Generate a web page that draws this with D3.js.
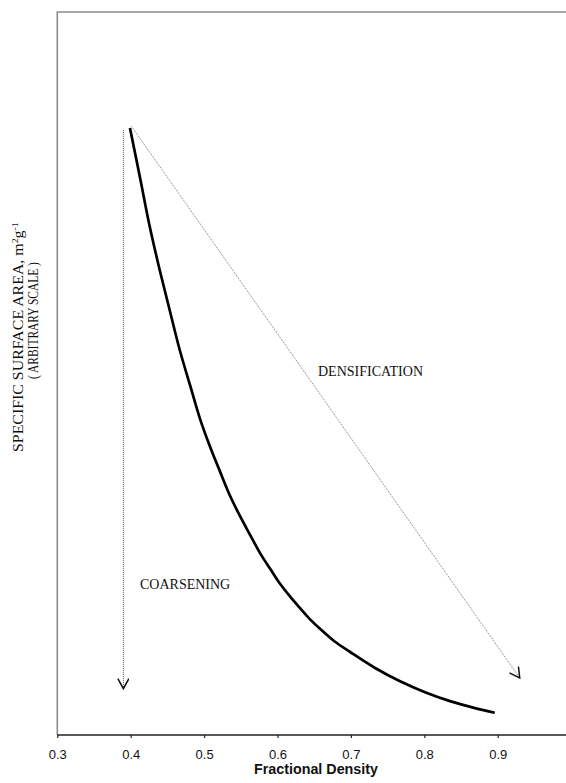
<!DOCTYPE html>
<html>
<head>
<meta charset="utf-8">
<script src="https://cdnjs.cloudflare.com/ajax/libs/d3/7.8.5/d3.min.js"></script>
<style>
  html, body { margin: 0; padding: 0; background: #fff; }
  svg { display: block; }
</style>
</head>
<body>
<svg id="chart" width="566" height="783"></svg>
<script>
// Fractional density (x) against specific surface area (arbitrary units, y)
const densityValues = [0.399, 0.413, 0.426, 0.440, 0.454, 0.467, 0.481, 0.494, 0.508, 0.522,
                       0.535, 0.549, 0.563, 0.576, 0.590, 0.603, 0.617, 0.631, 0.644, 0.658,
                       0.678, 0.699, 0.733, 0.767, 0.801, 0.835, 0.869, 0.896];
const surfaceValues = [83.96, 76.93, 70.29, 64.11, 58.40, 53.18, 48.34, 43.87, 39.90, 36.36,
                       33.17, 30.26, 27.61, 25.19, 22.99, 20.98, 19.16, 17.51, 16.03, 14.69,
                       12.93, 11.48, 9.27, 7.43, 5.92, 4.69, 3.72, 3.08];

// Pathways: coarsening (surface area drops at constant density), densification (both change)
const coarseningPath = [[0.390, 83.7], [0.390, 6.4]];
const densificationPath = [[0.401, 84.2], [0.930, 7.9]];

const xTickValues = [0.3, 0.4, 0.5, 0.6, 0.7, 0.8, 0.9];
const xTitle = "Fractional Density";
const yTitleLine1 = "SPECIFIC SURFACE AREA,  m";
const yTitleLine2 = "( ARBITRARY SCALE )";

const svg = d3.select("#chart");
const W = 566, H = 783;
const plot = { left: 57.3, top: 12, bottom: 735 };

const x = d3.scaleLinear().domain([0.3, 1.0]).range([plot.left, plot.left + 734 * 0.7]);
const y = d3.scaleLinear().domain([0, 100]).range([plot.bottom, plot.top]);

const serif = "Liberation Serif, Times New Roman, serif";
const sans = "Liberation Sans, Arial, sans-serif";

// Plot frame (top and left), extending off the right edge
svg.append("path")
  .attr("d", `M${W + 5},${plot.top}H${plot.left}V${plot.bottom}`)
  .attr("fill", "none")
  .attr("stroke", "#8c8c8c")
  .attr("stroke-width", 1.6);

// X axis
const xAxis = d3.axisBottom(x)
  .tickValues(xTickValues)
  .tickSize(3)
  .tickSizeOuter(0)
  .tickFormat(d3.format(".1f"));
const gx = svg.append("g")
  .attr("transform", `translate(0,${plot.bottom})`)
  .call(xAxis);
gx.select(".domain").attr("stroke", "#222").attr("stroke-width", 1.6)
  .attr("d", `M${plot.left},0H${W + 5}`);
gx.selectAll(".tick line").attr("stroke", "#222").attr("stroke-width", 1.2);
gx.selectAll(".tick text")
  .attr("font-family", sans)
  .attr("font-size", 13)
  .attr("fill", "#111")
  .attr("dy", "0")
  .attr("y", 24);

svg.append("text")
  .attr("x", 316).attr("y", 774)
  .attr("text-anchor", "middle")
  .attr("font-family", sans)
  .attr("font-weight", "bold")
  .attr("font-size", 14.3)
  .attr("fill", "#111")
  .text(xTitle);

// Y axis title (two rotated lines), each fitted to its span along the axis
function fitRotated(textSel, baselineX, yBottom, yTop) {
  const len = textSel.node().getComputedTextLength();
  const s = (yBottom - yTop) / len;
  textSel.attr("transform", `translate(${baselineX},${yBottom}) rotate(-90) scale(${s},1)`);
}

const yt1 = svg.append("text")
  .attr("font-family", serif)
  .attr("font-size", 14.5)
  .attr("fill", "#111");
yt1.append("tspan").text(yTitleLine1);
yt1.append("tspan").attr("dy", -5).attr("font-size", 9).text("2");
yt1.append("tspan").attr("dy", 5).text("g");
yt1.append("tspan").attr("dy", -5).attr("font-size", 9).text("-1");
fitRotated(yt1, 23, 452, 222);

const yt2 = svg.append("text")
  .attr("font-family", serif)
  .attr("font-size", 14)
  .attr("fill", "#111")
  .text(yTitleLine2);
fitRotated(yt2, 38, 379, 262);

// Arrowhead marker (open V)
svg.append("defs").append("marker")
  .attr("id", "openArrow")
  .attr("viewBox", "0 0 12 12")
  .attr("refX", 11).attr("refY", 6)
  .attr("markerWidth", 12).attr("markerHeight", 12)
  .attr("markerUnits", "userSpaceOnUse")
  .attr("orient", "auto")
  .append("path")
  .attr("d", "M1,0.5L11,6L1,11.5")
  .attr("fill", "none")
  .attr("stroke", "#111")
  .attr("stroke-width", 1.5);

const line = d3.line().x(d => x(d[0])).y(d => y(d[1]));

// Coarsening pathway
svg.append("path")
  .attr("d", line(coarseningPath))
  .attr("fill", "none")
  .attr("stroke", "#555")
  .attr("stroke-width", 1)
  .attr("stroke-dasharray", "1,1")
  .attr("marker-end", "url(#openArrow)");

// Densification pathway
svg.append("path")
  .attr("d", line(densificationPath))
  .attr("fill", "none")
  .attr("stroke", "#777")
  .attr("stroke-width", 1)
  .attr("stroke-dasharray", "1,1")
  .attr("marker-end", "url(#openArrow)");

// Main curve
const curveData = densityValues.map((d, i) => [d, surfaceValues[i]]);
svg.append("path")
  .attr("d", d3.line().x(d => x(d[0])).y(d => y(d[1])).curve(d3.curveCatmullRom.alpha(0.5))(curveData))
  .attr("fill", "none")
  .attr("stroke", "#000")
  .attr("stroke-width", 2.7)
  .attr("stroke-linecap", "butt");

// Pathway labels
svg.append("text")
  .attr("x", 318).attr("y", 376)
  .attr("font-family", serif)
  .attr("font-size", 14)
  .attr("fill", "#111")
  .text("DENSIFICATION");

svg.append("text")
  .attr("x", 140).attr("y", 589)
  .attr("font-family", serif)
  .attr("font-size", 14)
  .attr("fill", "#111")
  .text("COARSENING");
</script>
</body>
</html>
